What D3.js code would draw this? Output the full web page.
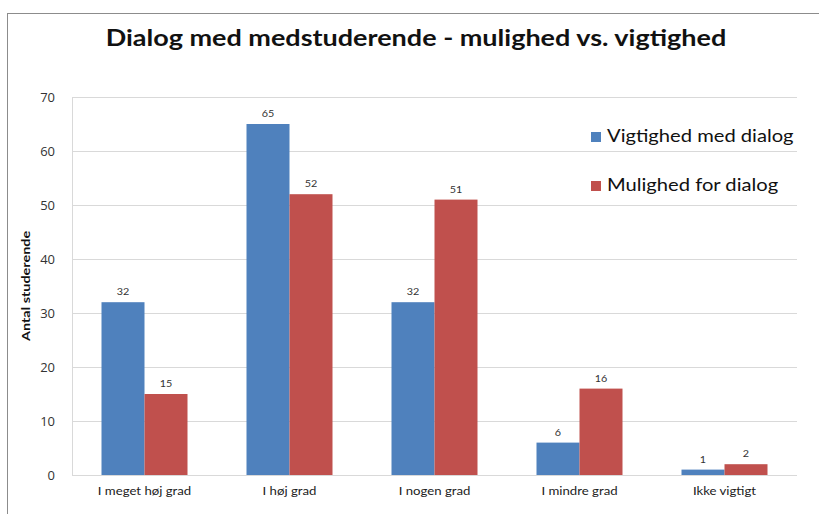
<!DOCTYPE html>
<html>
<head>
<meta charset="utf-8">
<script src="https://cdn.jsdelivr.net/npm/d3@7"></script>
<style>
  body { margin: 0; background: #fff; }
  text { font-family: Lato, "Open Sans", sans-serif; }
</style>
</head>
<body>
<svg id="chart" width="819" height="514"></svg>
<script>
const categories = ['I meget høj grad', 'I høj grad', 'I nogen grad', 'I mindre grad', 'Ikke vigtigt'];
const seriesNames = ['Vigtighed med dialog', 'Mulighed for dialog'];
const vigtighed = [32, 65, 32, 6, 1];
const mulighed  = [15, 52, 51, 16, 2];
const yTicks = [0, 10, 20, 30, 40, 50, 60, 70];
const colors = ['#4F81BD', '#C0504D'];

const svg = d3.select('#chart');
const m = { left: 72, right: 797, top: 97, bottom: 475 };
const sx = 1.2; // the reference text is drawn a bit wide

// wide text: scale along x around its own anchor
function wide(sel, x0) {
  sel.attr('x', x0 / sx).attr('transform', `scale(${sx},1)`);
}

// outer chart frame
svg.append('rect')
    .attr('x', 7.5).attr('y', 13.5)
    .attr('width', 830).attr('height', 600)
    .attr('fill', 'none')
    .attr('stroke', '#8c8c8c')
    .attr('stroke-width', 1);

const x = d3.scaleBand().domain(categories).range([m.left, m.right]);
const xs = d3.scaleBand().domain(seriesNames).range([0, 86]);
const y = d3.scaleLinear().domain([0, 70]).range([m.bottom, m.top]);

// gridlines
svg.append('g')
  .selectAll('line')
  .data(yTicks)
  .join('line')
    .attr('x1', m.left).attr('x2', m.right)
    .attr('y1', d => Math.round(y(d)) + 0.5)
    .attr('y2', d => Math.round(y(d)) + 0.5)
    .attr('stroke', '#d9d9d9');

svg.append('line')
    .attr('x1', m.left + 0.5).attr('x2', m.left + 0.5)
    .attr('y1', m.top).attr('y2', m.bottom)
    .attr('stroke', '#d9d9d9');

// y axis labels
const yAxis = svg.append('g')
    .attr('transform', `translate(${m.left - 17},0)`)
    .call(d3.axisLeft(y).tickValues(yTicks).tickSize(0).tickPadding(0));
yAxis.select('.domain').remove();
yAxis.selectAll('text')
    .style('font-family', '"Open Sans", sans-serif')
    .style('font-size', '13px')
    .attr('fill', '#333');

// x axis labels
const xAxis = svg.append('g')
    .attr('transform', `translate(0,${m.bottom})`)
    .call(d3.axisBottom(x).tickSize(0).tickPadding(12));
xAxis.select('.domain').remove();
xAxis.selectAll('text')
    .style('font-family', 'Lato, sans-serif')
    .style('font-size', '11px')
    .attr('fill', '#222')
    .attr('transform', `scale(${sx},1)`);

// bars
const series = [vigtighed, mulighed];
const groups = svg.append('g')
  .selectAll('g')
  .data(categories)
  .join('g')
    .attr('transform', d => `translate(${x(d) + (x.bandwidth() - 86) / 2},0)`);

const cells = (d, i) => seriesNames.map((s, k) => ({ s, v: series[k][i], k }));

groups.selectAll('rect')
  .data(cells)
  .join('rect')
    .attr('x', d => xs(d.s))
    .attr('y', d => y(d.v))
    .attr('width', xs.bandwidth())
    .attr('height', d => y(0) - y(d.v))
    .attr('fill', d => colors[d.k]);

groups.selectAll('text')
  .data(cells)
  .join('text')
    .attr('y', d => y(d.v) - 7)
    .attr('text-anchor', 'middle')
    .style('font-size', '9px')
    .attr('fill', '#333')
    .text(d => d.v)
    .each(function (d) { wide(d3.select(this), xs(d.s) + xs.bandwidth() / 2); });

// y axis title
svg.append('text')
    .attr('transform', `translate(30,${(m.top + m.bottom) / 2}) rotate(-90) scale(${sx},1)`)
    .attr('text-anchor', 'middle')
    .style('font-size', '12px')
    .style('font-weight', 'bold')
    .attr('fill', '#111')
    .text('Antal studerende');

// title
svg.append('text')
    .attr('y', 46)
    .attr('text-anchor', 'middle')
    .style('font-size', '22.5px')
    .style('font-weight', 'bold')
    .attr('fill', '#111')
    .text('Dialog med medstuderende - mulighed vs. vigtighed')
    .call(wide, 416);

// legend
const legend = svg.append('g')
  .selectAll('g')
  .data(seriesNames)
  .join('g')
    .attr('transform', (d, i) => `translate(591,${136 + i * 49})`);
legend.append('rect')
    .attr('x', 0).attr('y', -4)
    .attr('width', 10).attr('height', 10)
    .attr('fill', (d, i) => colors[i]);
legend.append('text')
    .attr('y', 6)
    .style('font-size', '16.8px')
    .attr('fill', '#111')
    .text(d => d)
    .call(wide, 16);
</script>
</body>
</html>
